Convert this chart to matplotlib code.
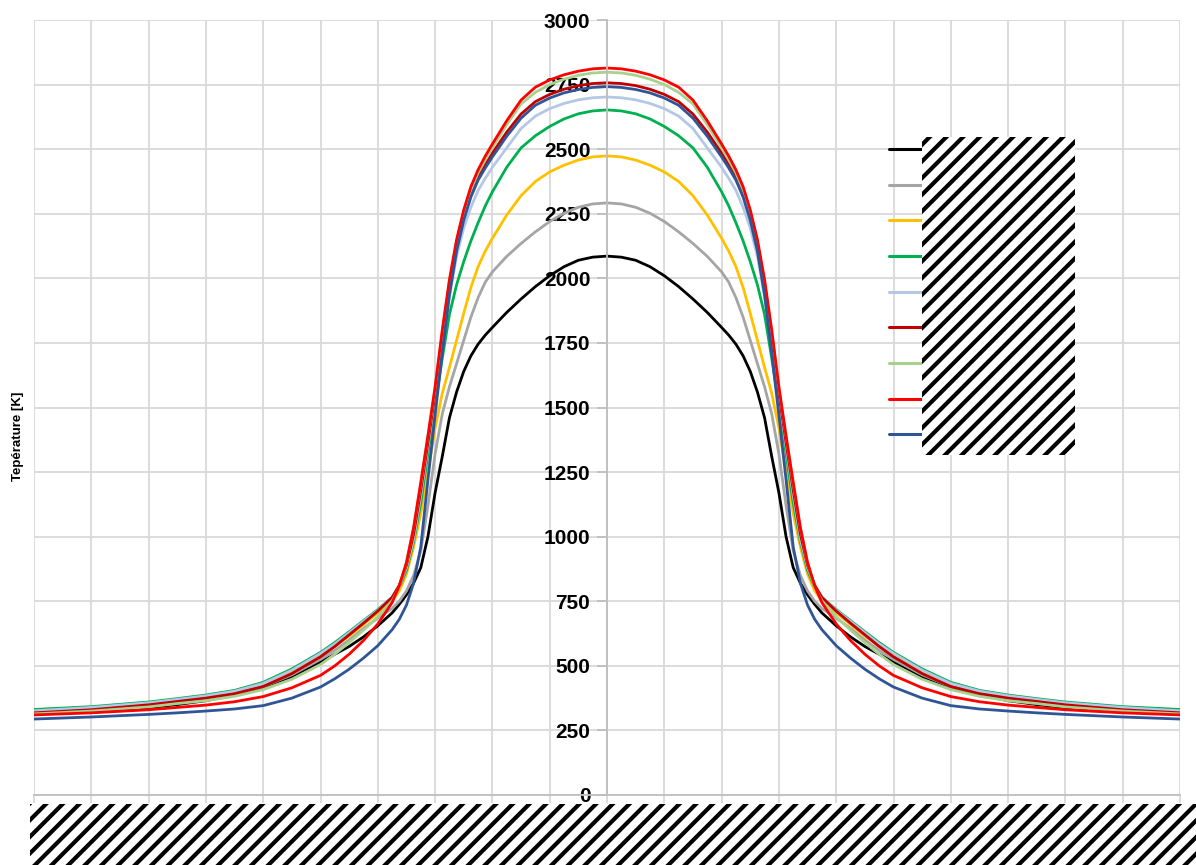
"""Profils de température (courbes symétriques)"""
import matplotlib
matplotlib.use("Agg")
import matplotlib.pyplot as plt
from matplotlib.patches import Rectangle
import numpy as np

plt.rcParams['font.family'] = ['Liberation Sans', 'DejaVu Sans']
plt.rcParams['hatch.linewidth'] = 3.0

# Demi-profil (x >= 0), symétrique autour de x = 0
x_half = [0, 0.25, 0.5, 0.75, 1, 1.25, 1.5, 1.75, 2, 2.125, 2.25, 2.375, 2.5, 2.625,
          2.75, 2.875, 3, 3.125, 3.25, 3.375, 3.5, 3.625, 3.75, 4, 4.25, 4.5, 4.75,
          5, 5.5, 6, 6.5, 7, 7.5, 8, 9, 10]

t_black = [2086, 2082, 2070, 2045, 2010, 1968, 1920, 1868, 1810, 1780, 1745, 1700, 1640, 1560,
           1460, 1310, 1170, 1000, 880, 820, 775, 738, 705, 655, 612, 575, 545,
           515, 458, 418, 388, 365, 350, 338, 325, 317]
t_gray = [2292, 2288, 2275, 2252, 2220, 2180, 2135, 2085, 2025, 1985, 1925, 1850, 1760, 1670,
          1580, 1475, 1320, 1120, 945, 850, 790, 750, 722, 685, 645, 600, 560,
          525, 465, 420, 393, 374, 362, 350, 335, 326]
t_yellow = [2474, 2470, 2458, 2438, 2412, 2375, 2320, 2245, 2155, 2105, 2045, 1965, 1865, 1760,
            1655, 1555, 1420, 1250, 1090, 960, 855, 790, 752, 705, 660, 615, 575,
            540, 480, 435, 403, 383, 368, 355, 339, 330]
t_green = [2652, 2648, 2637, 2617, 2588, 2552, 2505, 2430, 2335, 2280, 2215, 2145, 2065, 1975,
           1860, 1690, 1510, 1320, 1130, 980, 870, 805, 765, 718, 675, 632, 590,
           552, 488, 436, 405, 387, 373, 360, 342, 331]
t_lightblue = [2702, 2699, 2691, 2677, 2657, 2628, 2580, 2505, 2430, 2387, 2340, 2275, 2195, 2085,
               1930, 1735, 1540, 1350, 1160, 990, 880, 810, 765, 715, 672, 628, 585,
               548, 483, 432, 402, 384, 370, 357, 339, 326]
t_darkred = [2757, 2754, 2746, 2732, 2712, 2684, 2636, 2566, 2485, 2440, 2392, 2325, 2240, 2125,
             1965, 1765, 1555, 1365, 1180, 1010, 890, 812, 765, 712, 665, 620, 575,
             535, 470, 420, 392, 375, 362, 349, 330, 318]
t_lightgreen = [2798, 2795, 2786, 2771, 2750, 2720, 2675, 2595, 2505, 2458, 2408, 2342, 2255, 2140,
                1985, 1790, 1575, 1390, 1205, 1035, 900, 805, 752, 690, 638, 590, 545,
                505, 448, 408, 382, 365, 354, 341, 325, 314]
t_red = [2814, 2811, 2802, 2788, 2768, 2740, 2690, 2610, 2520, 2473, 2420, 2355, 2265, 2150,
         1995, 1800, 1580, 1390, 1210, 1035, 900, 810, 745, 662, 598, 545, 500,
         463, 415, 381, 361, 348, 339, 330, 318, 310]
t_blue = [2742, 2739, 2731, 2718, 2698, 2670, 2620, 2550, 2470, 2427, 2380, 2315, 2225, 2105,
          1935, 1710, 1470, 1220, 960, 820, 735, 680, 640, 578, 530, 487, 450,
          418, 375, 346, 333, 325, 318, 312, 302, 294]

series = [t_black, t_gray, t_yellow, t_green, t_lightblue, t_darkred, t_lightgreen, t_red, t_blue]
colors = ['#000000', '#A5A5A5', '#FFC000', '#00B050', '#B4C7E7',
          '#C00000', '#A9D18E', '#FF0000', '#2F5597']

y_ticks = list(range(0, 3001, 250))


def mirror(values):
    v = np.asarray(values, dtype=float)
    return np.concatenate([v[::-1], v[1:]])


xh = np.asarray(x_half, dtype=float)
xs = np.concatenate([-xh[::-1], xh[1:]])

fig = plt.figure(figsize=(11.96, 8.65), dpi=100)
ax = fig.add_axes([34 / 1196, 1 - 795 / 865, (1180 - 34) / 1196, (795 - 20) / 865])

lines = []
for vals, c in zip(series, colors):
    ln, = ax.plot(xs, mirror(vals), color=c, linewidth=2.0,
                  solid_capstyle='round', solid_joinstyle='round')
    lines.append(ln)

# axe vertical au centre (à positionner avant les graduations)
for side in ['top', 'right']:
    ax.spines[side].set_visible(False)
ax.spines['left'].set_position(('data', 0))
ax.spines['left'].set_color('#BFBFBF')
ax.spines['bottom'].set_color('#BFBFBF')
ax.spines['left'].set_linewidth(1.3)
ax.spines['bottom'].set_linewidth(1.3)

ax.set_xlim(-10, 10)
ax.set_ylim(0, 3000)
ax.set_xticks(np.arange(-10, 11, 1))
ax.set_xticklabels([])
ax.set_yticks(y_ticks)
ax.set_yticklabels([str(v) for v in y_ticks], fontsize=15, fontweight='bold')

ax.grid(True, color='#D9D9D9', linewidth=1.3)
ax.set_axisbelow(True)
ax.tick_params(axis='y', length=7, width=1.3, color='#BFBFBF', pad=5)
ax.tick_params(axis='x', length=6, width=1.3, color='#D9D9D9')

fig.text(18 / 1196, 1 - 436 / 865, 'Tepérature [K]', rotation=90,
         ha='center', va='center', fontsize=9.5, fontweight='bold')

leg = ax.legend(lines, [' '] * len(lines), loc='upper left',
                bbox_to_anchor=(889 / 1196, 1 - 142 / 865), bbox_transform=fig.transFigure,
                frameon=False, borderpad=0, borderaxespad=0, fontsize=14,
                handlelength=1.7, handletextpad=0.2, labelspacing=0.93)
for h in leg.get_lines():
    h.set_linewidth(2.2)

# zones masquées (hachurées)
fig.add_artist(Rectangle((922 / 1196, 1 - 455 / 865), (1075 - 922) / 1196, (455 - 137) / 865,
                         transform=fig.transFigure, facecolor='white', edgecolor='black',
                         hatch='//', linewidth=0, zorder=10))
fig.add_artist(Rectangle((30 / 1196, 0), (1196 - 30) / 1196, (865 - 804) / 865,
                         transform=fig.transFigure, facecolor='white', edgecolor='black',
                         hatch='//', linewidth=0, zorder=10))

plt.savefig('out.png', dpi=100)
plt.close()
